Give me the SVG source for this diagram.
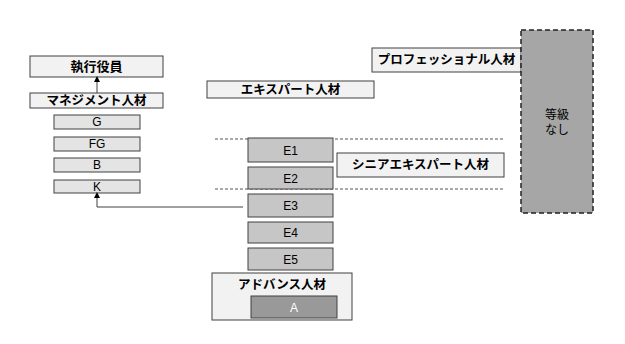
<svg xmlns="http://www.w3.org/2000/svg" width="625" height="344" viewBox="0 0 625 344">
<defs>
<style>
.lbl{fill:#f2f2f2;stroke:#404040;stroke-width:1}
.g{fill:#e4e4e4;stroke:#404040;stroke-width:1}
.e{fill:#c6c6c6;stroke:#404040;stroke-width:1}
text{font-family:"Liberation Sans","Noto Sans CJK JP",sans-serif;font-size:12px;text-anchor:middle;fill:#000}
.b{font-weight:bold;font-size:12.5px}
.conn{fill:none;stroke:#404040;stroke-width:1}
.dash{stroke:#555;stroke-width:1;stroke-dasharray:3,2}
</style>
<marker id="ah" markerWidth="6" markerHeight="6" refX="3" refY="3" orient="auto" markerUnits="userSpaceOnUse">
<path d="M0,6 L3,0 L6,6 Z" fill="#000" transform="rotate(90 3 3)"/>
</marker>
</defs>
<rect width="625" height="344" fill="#fff"/>
<g id="dividers">
<line class="dash" x1="215" y1="139" x2="503" y2="139"/>
<line class="dash" x1="215" y1="189" x2="503" y2="189"/>
</g>
<g id="n-exec"><rect class="lbl" x="30" y="56" width="133" height="21"/><text class="b" x="96.5" y="71" style="font-size:13px">執行役員</text></g>
<g id="n-mgmt"><rect class="lbl" x="30" y="93" width="133" height="15"/><text class="b" x="96.5" y="105">マネジメント人材</text></g>
<g id="n-G"><rect class="g" x="54" y="115" width="86" height="14"/><text x="97" y="126">G</text></g>
<g id="n-FG"><rect class="g" x="54" y="137" width="86" height="14"/><text x="97" y="148">FG</text></g>
<g id="n-B"><rect class="g" x="54" y="158" width="86" height="14"/><text x="97" y="169">B</text></g>
<g id="n-K"><rect class="g" x="54" y="180" width="86" height="13"/><text x="97" y="191">K</text></g>
<g id="n-expert"><rect class="lbl" x="207" y="81" width="167" height="17"/><text class="b" x="290.5" y="94">エキスパート人材</text></g>
<g id="n-senior"><rect class="lbl" x="337" y="153" width="167" height="24"/><text class="b" x="420.5" y="169">シニアエキスパート人材</text></g>
<g id="n-pro"><rect class="lbl" x="372" y="48" width="149" height="24"/><text class="b" x="446.5" y="64">プロフェッショナル人材</text></g>
<g id="n-nograde"><rect x="521" y="30" width="72" height="183" fill="#a6a6a6" stroke="#222" stroke-width="1.5" stroke-dasharray="5,3"/><text x="557" y="119">等級</text><text x="557" y="134">なし</text></g>
<g id="n-E1"><rect class="e" x="248" y="138" width="85" height="24"/><text x="290.5" y="155">E1</text></g>
<g id="n-E2"><rect class="e" x="248" y="167" width="85" height="22"/><text x="290.5" y="183">E2</text></g>
<g id="n-E3"><rect class="e" x="248" y="194" width="85" height="23"/><text x="290.5" y="210">E3</text></g>
<g id="n-E4"><rect class="e" x="248" y="222" width="85" height="21"/><text x="290.5" y="237">E4</text></g>
<g id="n-E5"><rect class="e" x="248" y="248" width="85" height="22"/><text x="290.5" y="264">E5</text></g>
<g id="n-advance"><rect class="lbl" x="212" y="273" width="140" height="47"/><text class="b" x="282" y="289">アドバンス人材</text></g>
<g id="n-A"><rect x="251" y="296" width="86" height="22" fill="#999" stroke="#404040" stroke-width="1"/><text x="294" y="312" style="fill:#fff">A</text></g>
<g id="connectors">
<line class="conn" x1="97" y1="93" x2="97" y2="79" marker-end="url(#ah)"/>
<polyline class="conn" points="243,207 97,207 97,195" marker-end="url(#ah)"/>
</g>
</svg>
